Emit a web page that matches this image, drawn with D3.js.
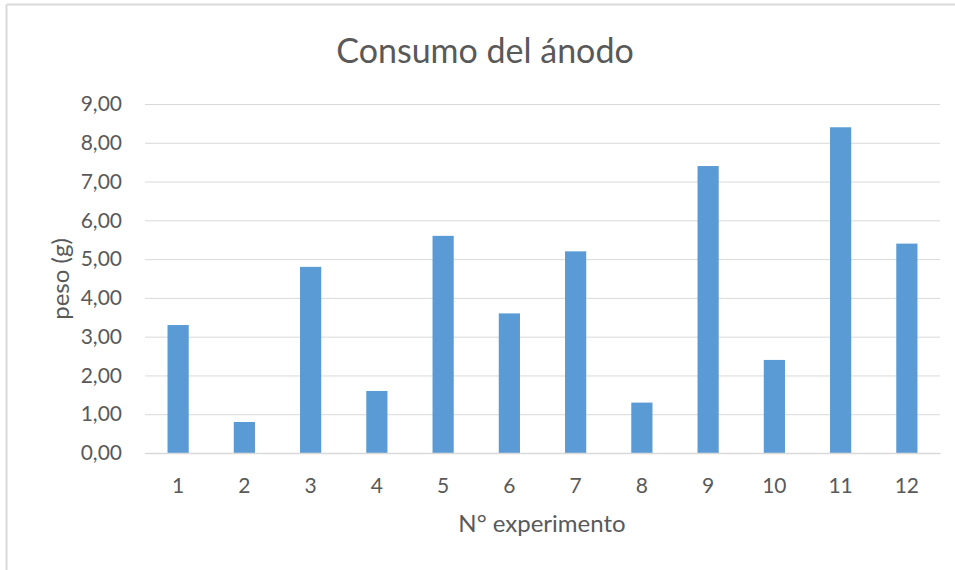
<!DOCTYPE html>
<html>
<head>
<meta charset="utf-8">
<script src="https://cdn.jsdelivr.net/npm/d3@7"></script>
<style>
  html, body { margin: 0; padding: 0; background: #fff; }
  svg text { font-family: Lato, "Open Sans", sans-serif; fill: #595959; }
</style>
</head>
<body>
<svg id="chart" width="955" height="570"></svg>
<script>
// Anode consumption per experiment (g)
const experiments = ["1","2","3","4","5","6","7","8","9","10","11","12"];
const weights = [3.3, 0.8, 4.8, 1.6, 5.6, 3.6, 5.2, 1.3, 7.4, 2.4, 8.4, 5.4];
const yTicks = [0,1,2,3,4,5,6,7,8,9];

const svg = d3.select("#chart");
const W = 955, H = 570;
const plot = { left: 145, right: 940, top: 104, bottom: 453 };

// chart frame (top and left edges visible)
svg.append("line").attr("x1", 6.5).attr("x2", W).attr("y1", 4.5).attr("y2", 4.5)
  .attr("stroke", "#d9d9d9").attr("stroke-width", 2);
svg.append("line").attr("x1", 6.5).attr("x2", 6.5).attr("y1", 4.5).attr("y2", H)
  .attr("stroke", "#d9d9d9").attr("stroke-width", 2);

const x = d3.scaleBand().domain(experiments).range([plot.left, plot.right]).paddingInner(0.68).paddingOuter(0.34);
const y = d3.scaleLinear().domain([0, 9]).range([plot.bottom, plot.top]);

const fmt = d => d.toFixed(2).replace(".", ",");

// gridlines + y labels
const yAxis = d3.axisLeft(y).tickValues(yTicks).tickSize(-(plot.right - plot.left)).tickFormat(fmt).tickPadding(23);
const gy = svg.append("g").attr("transform", `translate(${plot.left},0)`).call(yAxis);
gy.select(".domain").remove();
gy.selectAll(".tick line").attr("stroke", "#d9d9d9").attr("stroke-width", 1);
gy.selectAll(".tick text").attr("font-size", 21).style("fill", "#595959");

// bars
svg.append("g").selectAll("rect").data(weights).join("rect")
  .attr("x", (d, i) => x(experiments[i]))
  .attr("width", x.bandwidth())
  .attr("y", d => y(d))
  .attr("height", d => y(0) - y(d))
  .attr("fill", "#5b9bd5");

// x axis
const xAxis = d3.axisBottom(x).tickSize(0).tickPadding(25);
const gx = svg.append("g").attr("transform", `translate(0,${plot.bottom})`).call(xAxis);
gx.select(".domain").attr("stroke", "#d9d9d9").attr("stroke-width", 1.5);
gx.selectAll(".tick text").attr("font-size", 21).style("fill", "#595959");

// titles
svg.append("text").attr("x", 485).attr("y", 63).attr("text-anchor", "middle")
  .attr("font-size", 34).text("Consumo del ánodo");
svg.append("text").attr("x", 542).attr("y", 532).attr("text-anchor", "middle")
  .attr("font-size", 24).text("N° experimento");
svg.append("text").attr("transform", "translate(69,279) rotate(-90)").attr("text-anchor", "middle")
  .attr("font-size", 24).text("peso (g)");
</script>
</body>
</html>
